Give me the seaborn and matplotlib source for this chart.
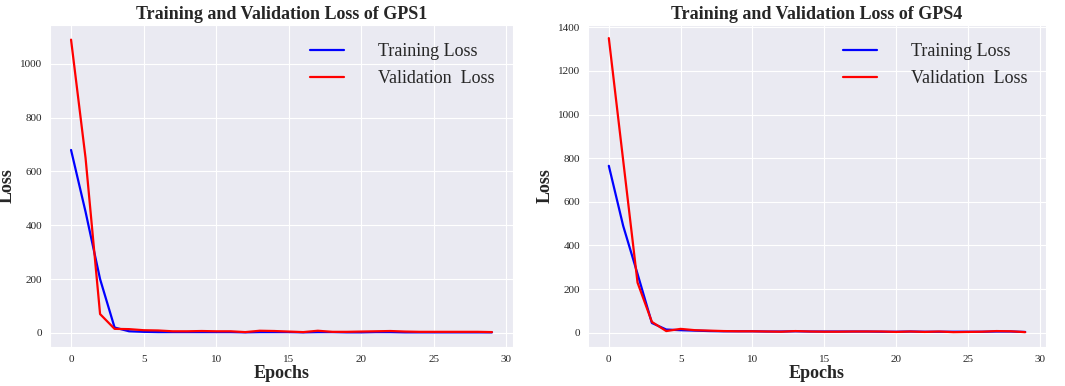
import numpy as np
import pandas as pd
import matplotlib
matplotlib.use("Agg")
import matplotlib.pyplot as plt
import seaborn as sns

epochs = list(range(30))
gps1_train = [680, 450, 200, 20, 6, 4, 3, 3, 3, 3, 3, 3, 2, 3, 3, 3, 2, 3, 3, 2, 2, 3, 3, 2, 2, 2, 2, 2, 2, 2]
gps1_val = [1090, 650, 70, 15, 14, 10, 9, 6, 6, 7, 6, 6, 3, 8, 7, 5, 3, 8, 4, 4, 5, 6, 7, 5, 4, 4, 4, 4, 4, 3]
gps4_train = [765, 490, 270, 45, 15, 12, 10, 8, 7, 7, 7, 6, 6, 7, 6, 6, 6, 6, 6, 5, 5, 6, 5, 5, 5, 5, 5, 6, 6, 4]
gps4_val = [1350, 790, 230, 50, 8, 18, 12, 10, 8, 7, 7, 6, 5, 8, 6, 5, 5, 6, 6, 6, 4, 6, 4, 6, 3, 4, 5, 8, 7, 3]
titles = ["Training and Validation Loss of GPS1", "Training and Validation Loss of GPS4"]
labels = ["Training Loss", "Validation  Loss"]

sns.set_style("darkgrid")
plt.rcParams['font.family'] = ['Liberation Serif', 'DejaVu Serif']

fig = plt.figure(figsize=(10.65, 3.86), dpi=100)
ax1 = fig.add_axes([50/1065, 1-347/386, (513-50)/1065, (347-25)/386])
ax2 = fig.add_axes([588/1065, 1-347/386, (1046-588)/1065, (347-25)/386])

for ax, tr, va, title in [(ax1, gps1_train, gps1_val, titles[0]), (ax2, gps4_train, gps4_val, titles[1])]:
    df = pd.DataFrame({"Epochs": epochs * 2,
                       "Loss": tr + va,
                       "kind": [labels[0]] * 30 + [labels[1]] * 30})
    sns.lineplot(data=df, x="Epochs", y="Loss", hue="kind",
                 palette={labels[0]: "blue", labels[1]: "red"},
                 linewidth=1.6, ax=ax)
    ax.set_title(title, fontsize=13, fontweight="bold", pad=4)
    ax.set_xlabel("Epochs", fontsize=13, fontweight="bold", labelpad=1)
    ax.set_ylabel("Loss", fontsize=13, fontweight="bold")
    ax.set_xticks([0, 5, 10, 15, 20, 25, 30])
    ax.tick_params(labelsize=8, pad=2)
    leg = ax.legend(loc="upper right", frameon=False, fontsize=13,
                    handlelength=1.9, handletextpad=1.9, borderaxespad=0.6,
                    labelspacing=0.55)
    leg.set_title(None)

ax1.set_yticks([0, 200, 400, 600, 800, 1000])
ax2.set_yticks([0, 200, 400, 600, 800, 1000, 1200, 1400])
ax2.set_ylim(-65, 1410)
ax1.yaxis.set_label_coords(-34/463, 0.5)
ax2.yaxis.set_label_coords(-34/458, 0.5)

fig.savefig("out.png", dpi=100)
